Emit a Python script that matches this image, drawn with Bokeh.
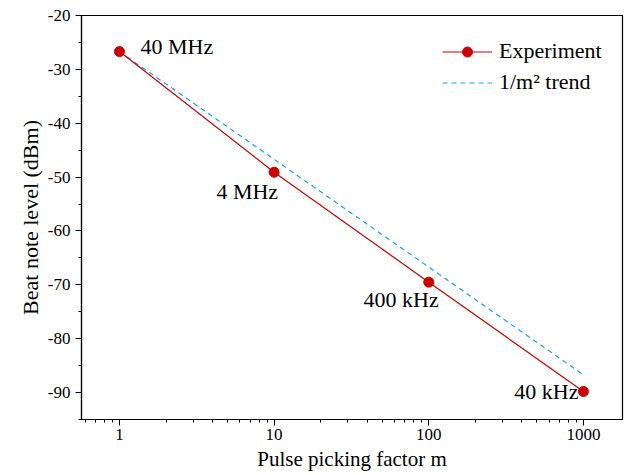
from bokeh.plotting import figure
from bokeh.models import ColumnDataSource, FixedTicker, Legend, LegendItem
from bokeh.core.properties import value
from bokeh.embed import file_html
from bokeh.resources import INLINE

# ---- data ----
m_factor = [1, 10, 100, 1000]
beat_level = [-26.7, -49.1, -69.5, -89.8]
trend_m = [1, 1000]
trend_level = [-26.7, -86.7]
rate_labels = ["40 MHz", "4 MHz", "400 kHz", "40 kHz"]
x_ticks = [1, 10, 100, 1000]
y_ticks = [-20, -30, -40, -50, -60, -70, -80, -90]

# ---- styling / layout (not data) ----
FONT = "Liberation Serif"
RED = "#cc0000"
BLUE = "#1a9fef"
label_dx = [21, 4, 10, -5]
label_dy = [-5, 19, 17, 0]
label_align = ["left", "right", "right", "right"]

p = figure(width=628, height=475, x_axis_type="log",
           x_range=(0.568, 1790), y_range=(-95, -20),
           output_backend="svg", toolbar_location=None,
           min_border_left=81, min_border_right=6,
           min_border_top=15, min_border_bottom=56)

p.xgrid.visible = False
p.ygrid.visible = False
p.outline_line_color = "black"
p.outline_line_width = 1.2
p.background_fill_color = "white"
p.border_fill_color = "white"

minor_x = [k * 10 ** d for d in range(-1, 4) for k in range(2, 10)]
p.xaxis.ticker = FixedTicker(ticks=x_ticks, minor_ticks=minor_x)
p.xaxis.major_label_overrides = {t: str(t) for t in x_ticks}
minor_y = [v for v in range(-95, -19, 5)]
p.yaxis.ticker = FixedTicker(ticks=y_ticks, minor_ticks=minor_y)
p.yaxis.major_label_overrides = {t: "-" + str(abs(t)) for t in y_ticks}

for ax in (p.xaxis[0], p.yaxis[0]):
    ax.axis_line_color = "black"
    ax.axis_line_width = 1.2
    ax.major_tick_line_color = "black"
    ax.minor_tick_line_color = "black"
    ax.major_tick_in = 0
    ax.major_tick_out = 6
    ax.minor_tick_in = 0
    ax.minor_tick_out = 3
    ax.major_label_text_font = FONT
    ax.major_label_text_font_size = "17px"
    ax.major_label_text_color = "black"
    ax.axis_label_text_font = FONT
    ax.axis_label_text_font_style = "normal"
    ax.axis_label_text_color = "black"

p.xaxis.axis_label = "Pulse picking factor m"
p.yaxis.axis_label = "Beat note level (dBm)"
p.xaxis.axis_label_text_font_size = "21px"
p.yaxis.axis_label_text_font_size = "22px"
p.xaxis.major_label_standoff = 3
p.xaxis.axis_label_standoff = 4
p.yaxis.axis_label_standoff = 2

trend = p.line(trend_m, trend_level, line_color=BLUE, line_width=1.2,
               line_dash="5 4")
exp_line = p.line(m_factor, beat_level, line_color=RED, line_width=1.2)
exp_dots = p.scatter(m_factor, beat_level, size=10, color=RED)

src = ColumnDataSource(dict(x=m_factor, y=beat_level, t=rate_labels,
                            dx=label_dx, dy=label_dy, al=label_align))
p.text(x="x", y="y", text="t", x_offset="dx", y_offset="dy",
       text_align="al", text_baseline="middle", source=src,
       text_font=value(FONT), text_font_size="22px", text_color="black")

legend = Legend(items=[
    LegendItem(label="Experiment", renderers=[exp_line, exp_dots]),
    LegendItem(label="1/m² trend", renderers=[trend]),
], location=(361, 324))
legend.border_line_color = None
legend.background_fill_alpha = 0
legend.label_text_font = FONT
legend.label_text_font_size = "22px"
legend.label_text_color = "black"
legend.label_height = 25
legend.glyph_height = 25
legend.glyph_width = 50
legend.label_standoff = 7
legend.spacing = 5
legend.margin = 0
legend.padding = 8
p.add_layout(legend)

open("out.html", "w").write(file_html(p, INLINE))
